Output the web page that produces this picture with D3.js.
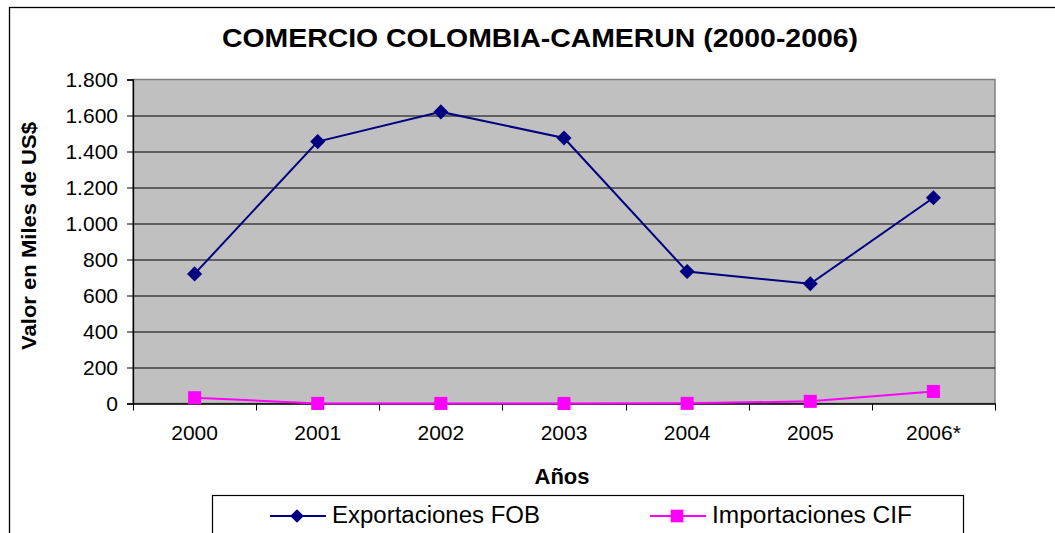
<!DOCTYPE html>
<html>
<head>
<meta charset="utf-8">
<script src="https://cdn.jsdelivr.net/npm/d3@7"></script>
<style>
  html, body { margin: 0; padding: 0; background: #fff; }
  svg { display: block; font-family: Arial, "Liberation Sans", sans-serif; }
</style>
</head>
<body>
<div id="wrapper"></div>
<script>
// data
const years = ["2000", "2001", "2002", "2003", "2004", "2005", "2006*"];
const exportsFOB = [720, 1455, 1620, 1475, 733, 665, 1143];
const importsCIF = [32, 0.5, 0.3, 0.2, 0.8, 12, 67];
const yTicks = [0, 200, 400, 600, 800, 1000, 1200, 1400, 1600, 1800];
const seriesNames = ["Exportaciones FOB", "Importaciones CIF"];

function drawChart() {
  // step 1: dimensions
  const dimensions = {
    width: 1055,
    height: 533,
    margin: { top: 79.5, left: 133, right: 60, bottom: 129.5 },
  };
  dimensions.boundWidth = dimensions.width - dimensions.margin.left - dimensions.margin.right;
  dimensions.boundHeight = dimensions.height - dimensions.margin.top - dimensions.margin.bottom;

  // step 2: canvas
  const wrapper = d3.select('#wrapper')
    .append('svg')
    .attr('width', dimensions.width)
    .attr('height', dimensions.height);

  // outer chart border (runs past the right and bottom edge)
  wrapper.append('rect')
    .attr('x', 9.5).attr('y', 7.5)
    .attr('width', 1200).attr('height', 800)
    .attr('fill', 'none').attr('stroke', '#000').attr('stroke-width', 1.3);

  wrapper.append('text')
    .attr('x', 540).attr('y', 47)
    .attr('text-anchor', 'middle')
    .attr('font-weight', 'bold')
    .attr('font-size', 25)
    .attr('textLength', 636)
    .attr('lengthAdjust', 'spacingAndGlyphs')
    .text('COMERCIO COLOMBIA-CAMERUN (2000-2006)');

  const bounds = wrapper.append('g')
    .attr('transform', `translate(${dimensions.margin.left}, ${dimensions.margin.top})`);

  // step 3: scales
  const xScale = d3.scaleBand()
    .domain(years)
    .range([0, dimensions.boundWidth])
    .padding(0);
  const yScale = d3.scaleLinear()
    .domain([0, 1800])
    .range([dimensions.boundHeight, 0]);
  const xCenter = d => xScale(d) + xScale.bandwidth() / 2;

  // plot area
  bounds.append('rect')
    .attr('width', dimensions.boundWidth)
    .attr('height', dimensions.boundHeight)
    .attr('fill', '#c0c0c0')
    .attr('stroke', '#808080')
    .attr('stroke-width', 1.5);

  // gridlines
  bounds.append('g')
    .selectAll('line')
    .data(yTicks.filter(d => d > 0 && d < 1800))
    .join('line')
    .attr('x1', 0).attr('x2', dimensions.boundWidth)
    .attr('y1', d => Math.round(yScale(d)) + 0.5)
    .attr('y2', d => Math.round(yScale(d)) + 0.5)
    .attr('stroke', '#000')
    .attr('stroke-width', 1.2);

  // step 4: axes
  const fmt = d3.formatLocale({ decimal: ",", thousands: ".", grouping: [3], currency: ["", ""] }).format(",");
  const yAxisGenerator = d3.axisLeft(yScale)
    .tickValues(yTicks)
    .tickSize(6)
    .tickPadding(9)
    .tickFormat(fmt);
  const yAxis = bounds.append('g').call(yAxisGenerator);
  yAxis.select('.domain').attr('stroke', '#000').attr('stroke-width', 1.3);
  yAxis.selectAll('.tick line').attr('stroke', '#000');
  yAxis.selectAll('text')
    .attr('font-size', 21)
    .attr('font-family', 'Arial, "Liberation Sans", sans-serif')
    .attr('fill', '#000');

  const xAxisGenerator = d3.axisBottom(xScale)
    .tickSize(0)
    .tickPadding(22);
  const xAxis = bounds.append('g')
    .attr('transform', `translate(0, ${dimensions.boundHeight})`)
    .call(xAxisGenerator);
  xAxis.select('.domain').attr('stroke', '#000').attr('stroke-width', 1.3);
  xAxis.selectAll('text')
    .attr('font-size', 21)
    .attr('font-family', 'Arial, "Liberation Sans", sans-serif')
    .attr('fill', '#000');
  // category boundary ticks
  xAxis.append('g')
    .selectAll('line')
    .data(years.map(d => xScale(d)).concat([dimensions.boundWidth]))
    .join('line')
    .attr('x1', d => Math.round(d) + 0.5).attr('x2', d => Math.round(d) + 0.5)
    .attr('y1', 0).attr('y2', 7)
    .attr('stroke', '#000');

  // axis titles
  bounds.append('text')
    .attr('x', 562 - dimensions.margin.left)
    .attr('y', 484 - dimensions.margin.top)
    .attr('text-anchor', 'middle')
    .attr('font-weight', 'bold')
    .attr('font-size', 22)
    .text('Años');
  wrapper.append('text')
    .attr('transform', 'translate(36, 236) rotate(-90)')
    .attr('text-anchor', 'middle')
    .attr('font-weight', 'bold')
    .attr('font-size', 21)
    .attr('textLength', 228)
    .attr('lengthAdjust', 'spacingAndGlyphs')
    .text('Valor en Miles de US$');

  // step 5: series
  const lineGen = d3.line()
    .x((d, i) => xCenter(years[i]))
    .y(d => yScale(d));
  const diamond = d3.symbol().type(d3.symbolDiamond2);
  const square = d3.symbol().type(d3.symbolSquare);

  bounds.append('path')
    .datum(importsCIF)
    .attr('d', lineGen)
    .attr('fill', 'none')
    .attr('stroke', '#ff00ff')
    .attr('stroke-width', 2);
  bounds.append('g')
    .selectAll('path')
    .data(importsCIF)
    .join('path')
    .attr('d', square.size(170))
    .attr('transform', (d, i) => `translate(${xCenter(years[i])}, ${yScale(d)})`)
    .attr('fill', '#ff00ff');

  bounds.append('path')
    .datum(exportsFOB)
    .attr('d', lineGen)
    .attr('fill', 'none')
    .attr('stroke', '#000080')
    .attr('stroke-width', 2);
  bounds.append('g')
    .selectAll('path')
    .data(exportsFOB)
    .join('path')
    .attr('d', diamond.size(145))
    .attr('transform', (d, i) => `translate(${xCenter(years[i])}, ${yScale(d)})`)
    .attr('fill', '#000080');

  // step 6: legend
  const legend = wrapper.append('g');
  legend.append('rect')
    .attr('x', 212.5).attr('y', 495.5)
    .attr('width', 751).attr('height', 80)
    .attr('fill', '#fff')
    .attr('stroke', '#000')
    .attr('stroke-width', 1.2);
  const legendItems = [
    { name: seriesNames[0], color: '#000080', sym: diamond.size(120), x: 270, tx: 332, tl: 208 },
    { name: seriesNames[1], color: '#ff00ff', sym: square.size(160), x: 650, tx: 712, tl: 200 },
  ];
  const item = legend.selectAll('g.item')
    .data(legendItems)
    .join('g')
    .attr('class', 'item');
  item.append('line')
    .attr('x1', d => d.x).attr('x2', d => d.x + 56)
    .attr('y1', 516).attr('y2', 516)
    .attr('stroke', d => d.color)
    .attr('stroke-width', 2);
  item.append('path')
    .attr('d', d => d.sym())
    .attr('transform', d => `translate(${d.x + 27}, 516)`)
    .attr('fill', d => d.color);
  item.append('text')
    .attr('x', d => d.tx)
    .attr('y', 523)
    .attr('font-size', 23)
    .attr('textLength', d => d.tl)
    .attr('lengthAdjust', 'spacingAndGlyphs')
    .text(d => d.name);
}
drawChart();
</script>
</body>
</html>
